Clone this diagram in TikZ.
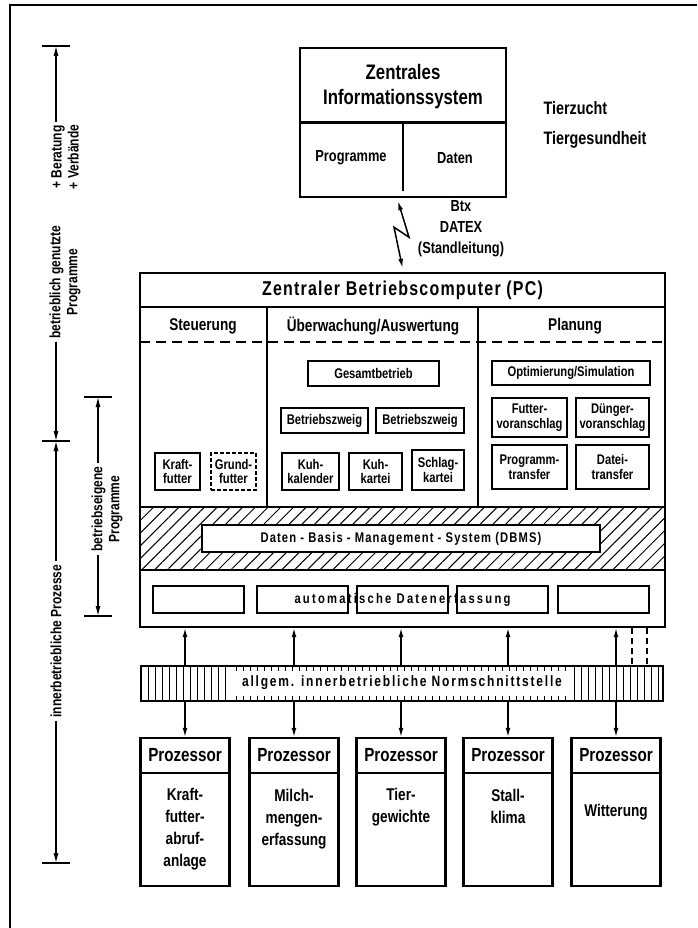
\documentclass[tikz,border=0pt]{standalone}
\usepackage{fontspec}
\setmainfont{Liberation Sans}[FakeStretch=0.8, UprightFont=* Bold, BoldFont=* Bold]
\usetikzlibrary{arrows.meta, patterns.meta, positioning, calc}
\newcommand\fs[2]{\fontsize{#1}{#2}\selectfont}
\newcommand\bnode[7]{% name, left, top, right, bottom, style, text
  \node[#6, minimum width={#4pt-#2pt}, minimum height={#5pt-#3pt}] (#1) at ({(#2+#4)/2},{(#3+#5)/2}) {#7};
}
\tikzset{
  heavy/.style={line width=2.4pt},
  bigbox/.style={draw, heavy, inner sep=0pt},
  smallbox/.style={draw, line width=1.3pt, inner sep=0pt, align=center, font=\fs{14}{14.5}},
  arr/.style={line width=1.3pt, -{Latex[length=9pt,width=5pt]}},
  dimline/.style={line width=1.1pt, -{Latex[length=10pt,width=5pt]}},
  dimlabel/.style={rotate=90, align=center, inner sep=3pt, font=\fs{15}{17}},
  tick/.style={line width=1.3pt},
}

\begin{document}
\begin{tikzpicture}[x=1pt, y=-1pt]
  \useasboundingbox (0,0) rectangle (697,928);
  \draw[heavy] (10,928) -- (10,5) -- (697,5); % frame

  % zentrales informationssystem
  \bnode{zis}{300}{48}{506}{197}{bigbox}{}
  \draw[heavy] (zis.west) -- (zis.east);
  \draw[line width=1.6pt] (zis.center) -- ([yshift=7pt]zis.south);
  \node[align=center, font=\fs{21}{25}] (zistitle) at (403,87) {Zentrales\\Informationssystem};
  \node[font=\fs{16}{18}] (zisprog) at (351,158) {Programme};
  \node[font=\fs{16}{18}] (zisdat) at (455,158) {Daten};
  \node[anchor=west, font=\fs{18}{20}] (tz) at (540,108) {Tierzucht};
  \node[anchor=west, font=\fs{18}{20}] (tg) at (540,140) {Tiergesundheit};

  % betriebscomputer
  \bnode{pc}{140}{273}{665}{627}{bigbox}{}
  \node[font={\fs{20}{22}\addfontfeature{LetterSpace=6}}] (pctitle) at (402.5,290) {Zentraler Betriebscomputer (PC)};
  \draw[heavy] (140,307) -- (665,307);
  \draw[line width=1.8pt] (267,307) -- (267,507) (478,307) -- (478,507);
  \draw[line width=1.6pt, dash pattern=on 10pt off 6pt] (140,342) -- (665,342);
  \node[font=\fs{17}{19}] (steu) at (203,326) {Steuerung};
  \node[font=\fs{17}{19}] (ueber) at (373,326) {Überwachung/Auswertung};
  \node[font=\fs{17}{19}] (plan) at (575,326) {Planung};

  \bnode{kraft}{155}{453}{200}{490}{smallbox}{Kraft-\\futter}
  \bnode{grund}{211}{453}{256}{490}{smallbox, dash pattern=on 4pt off 2pt}{Grund-\\futter}
  \bnode{gesamt}{308}{361}{439}{386}{smallbox}{Gesamtbetrieb}
  \bnode{bza}{281}{408}{368}{433}{smallbox}{Betriebszweig}
  \bnode{bzb}{376}{408}{464}{433}{smallbox}{Betriebszweig}
  \bnode{kuhkal}{282}{453}{339}{490}{smallbox}{Kuh-\\kalender}
  \bnode{kuhkar}{349}{453}{402}{490}{smallbox}{Kuh-\\kartei}
  \bnode{schlag}{412}{450}{464}{490}{smallbox}{Schlag-\\kartei}
  \bnode{optsim}{492}{361}{650}{385}{smallbox}{Optimierung/Simulation}
  \bnode{futtva}{492}{398}{567}{437}{smallbox}{Futter-\\voranschlag}
  \bnode{duengva}{576}{398}{649}{437}{smallbox}{Dünger-\\voranschlag}
  \bnode{progtr}{492}{445}{567}{489}{smallbox}{Programm-\\transfer}
  \bnode{dateitr}{576}{445}{649}{489}{smallbox}{Datei-\\transfer}

  % dbms
  \fill[pattern={Lines[angle=45, distance=9pt, line width=1pt]}] (140,507) rectangle (665,570);
  \draw[line width=1.5pt] (140,507) -- (665,507) (140,570) -- (665,570);
  \bnode{dbms}{202}{525}{600}{552}{smallbox, fill=white, font={\fs{14}{15}\addfontfeature{LetterSpace=8}}}{Daten - Basis - Management - System (DBMS)}

  % datenerfassung
  \foreach \i/\l [evaluate=\l as \r using \l+91] in {1/153, 2/257, 3/357, 4/457, 5/558}
    \bnode{de\i}{\l}{586}{\r}{613}{smallbox}{};
  \node[font={\fs{14}{15}\addfontfeature{LetterSpace=16}}] (detext) at (402.5,600) {automatische Datenerfassung};

  % lightning
  \draw[line width=1.5pt, {Latex[length=9pt,width=5pt]}-{Latex[length=9pt,width=5pt]}]
    ([xshift=-5pt, yshift=-3pt]zis.south) -- ++(11,36) -- ++(-15,-10) -- ([yshift=4pt]pc.north);
  \node[align=center, font=\fs{16}{21}] (btx) at (461,229) {Btx\\DATEX\\(Standleitung)};

  % normschnittstelle
  \bnode{nsst}{141}{666}{663}{701}{draw, line width=1.5pt}{}
  \foreach \x in {148,155,...,229, 574,581,...,660}
    \draw[line width=1pt] (\x,666) -- (\x,701);
  \foreach \x in {236,243,...,568}
    \draw[line width=1pt] (\x,666) -- ++(0,5) (\x,701) -- ++(0,-5);
  \node[font={\fs{15}{16}\addfontfeature{LetterSpace=12}}] (nstext) at (402,683) {allgem. innerbetriebliche Normschnittstelle};

  % prozessoren
  \foreach \i/\x [evaluate=\x as \xl using \x-44.5, evaluate=\x as \xr using \x+44.5] in {1/185, 2/294, 3/401, 4/508, 5/616}{
    \bnode{proc\i}{\xl}{738}{\xr}{886}{bigbox}{}
    \draw[heavy] ([yshift=-36pt]proc\i.north west) -- ([yshift=-36pt]proc\i.north east);
    \node[font={\fs{19}{21}}] (ptitle\i) at ([yshift=-18pt]proc\i.north) {Prozessor};
    \draw[arr] (nsst.south -| proc\i.north) -- (proc\i.north);
    \draw[arr] (nsst.north -| proc\i.north) -- (pc.south -| proc\i.north);
  }
  \foreach \i/\dy/\txt in {1/92/{Kraft-\\futter-\\abruf-\\anlage}, 2/82/{Milch-\\mengen-\\erfassung}, 3/70/{Tier-\\gewichte}, 4/70/{Stall-\\klima}, 5/75/{Witterung}}
    \node[align=center, font=\fs{17}{22}] (pbody\i) at ([yshift=-\dy pt]proc\i.north) {\txt};
  \coordinate (dsha) at (632,0);
  \coordinate (dshb) at (647,0);
  \draw[line width=1.5pt, dash pattern=on 6pt off 4pt] (pc.south -| dsha) -- (nsst.north -| dsha) (pc.south -| dshb) -- (nsst.north -| dshb);

  % bemassung links
  \coordinate (ta) at (56,46);
  \coordinate (tb) at (56,441);
  \coordinate (tc) at (56,863);
  \coordinate (sa) at (98,397);
  \coordinate (sb) at (98,616);
  \foreach \t in {ta,tb,tc,sa,sb}
    \draw[tick] (\t) ++(-14,0) -- ++(28,0);
  \node[dimlabel] (berver) at (65,157) {+ Beratung\\+ Verbände};
  \node[dimlabel] (bgprog) at (65,282) {betrieblich genutzte\\Programme};
  \node[dimlabel] (ibproz) at (56,641) {innerbetriebliche Prozesse};
  \node[dimlabel] (beprog) at (107,509) {betriebseigene\\Programme};
  \draw[dimline] (berver.east -| ta) -- (ta);
  \draw[dimline] (bgprog.west -| ta) -- (tb);
  \draw[dimline] (ibproz.east) -- (tb);
  \draw[dimline] (ibproz.west) -- (tc);
  \draw[dimline] (beprog.east -| sa) -- (sa);
  \draw[dimline] (beprog.west -| sa) -- (sb);
\end{tikzpicture}
\end{document}
